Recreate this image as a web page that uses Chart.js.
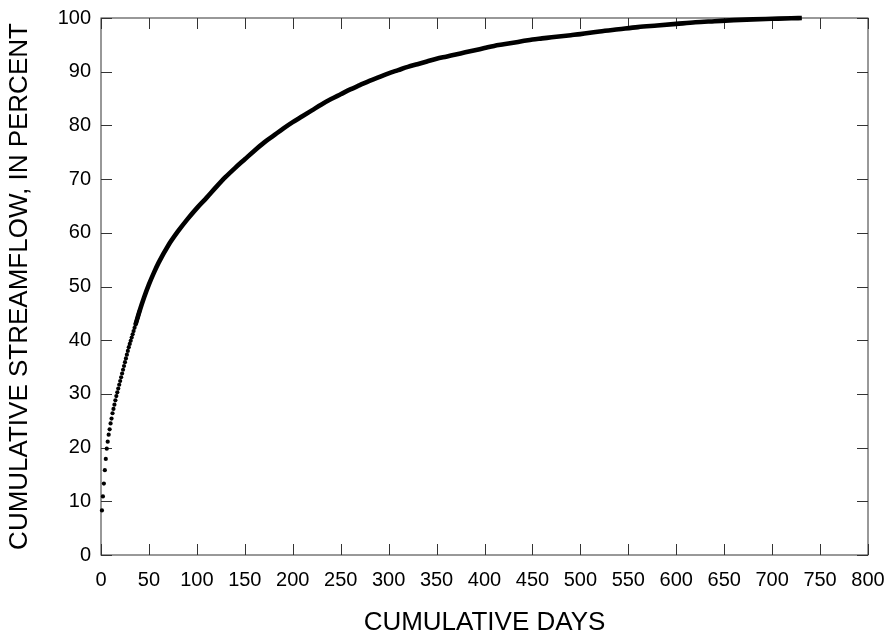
<!DOCTYPE html>
<html>
<head>
<meta charset="utf-8">
<title>Cumulative streamflow</title>
<script src="https://cdn.jsdelivr.net/npm/chart.js@4/dist/chart.umd.min.js"></script>
<style>
  html, body { margin: 0; padding: 0; background: #fff; }
  #wrap { width: 888px; height: 639px; }
</style>
</head>
<body>
<div id="wrap"><canvas id="chart" width="888" height="639"></canvas></div>
<script>
// ── Data ────────────────────────────────────────────────────────────────────
// early days: each day shows as its own dot
const dotDays = [1, 2, 3, 4, 5, 6, 7, 8, 9, 10, 11, 12, 13, 14, 15, 16, 17, 18, 19, 20,
                 21, 22, 23, 24, 25, 26, 27, 28, 29, 30, 31, 32, 33, 34, 35, 36, 37, 38, 39, 40];
const dotPercent = [8.3, 10.9, 13.3, 15.8, 17.9, 19.8, 21.1, 22.4, 23.4, 24.5,
                    25.4, 26.4, 27.2, 28.0, 28.8, 29.6, 30.3, 31.0, 31.7, 32.4,
                    33.1, 33.8, 34.5, 35.2, 35.9, 36.6, 37.3, 38.0, 38.7, 39.3,
                    39.9, 40.5, 41.1, 41.7, 42.3, 42.9, 43.5, 44.1, 44.7, 45.3];

// later days: dots merge into a solid band, sampled along it
const curveDays = [36, 38, 40, 45, 50, 55, 60, 70, 80, 90, 100, 110, 120, 130, 140, 150,
                   160, 170, 180, 190, 200, 210, 220, 230, 240, 250, 260, 270, 280, 290, 300,
                   310, 320, 330, 340, 350, 360, 370, 380, 390, 400, 410, 420, 430, 440, 450,
                   460, 470, 480, 490, 500, 520, 540, 560, 580, 600, 620, 640, 660, 680, 700,
                   720, 731];
const curvePercent = [42.9, 44.1, 45.3, 48.0, 50.4, 52.5, 54.4, 57.6, 60.2, 62.5, 64.6, 66.5, 68.5, 70.4, 72.1, 73.7,
                      75.3, 76.8, 78.1, 79.4, 80.6, 81.7, 82.8, 83.9, 84.9, 85.8, 86.7, 87.5, 88.3, 89.0, 89.7,
                      90.3, 90.9, 91.4, 91.9, 92.4, 92.8, 93.2, 93.6, 94.0, 94.4, 94.8, 95.1, 95.4, 95.7, 96.0,
                      96.2, 96.4, 96.6, 96.8, 97.0, 97.5, 97.9, 98.3, 98.6, 98.9, 99.2, 99.4, 99.6, 99.75, 99.85,
                      99.95, 100.0];

const xTickMax = 800, xStep = 50;
const yTickMax = 100, yStep = 10;

const FONT = "'Liberation Sans', Arial, sans-serif";
const INK = '#000';

// ── Inward ticks on all four sides plus frame ───────────────────────────────
const frameTicks = {
    id: 'frameTicks',
    beforeDatasetsDraw(chart) {
        const { ctx, chartArea: a, scales: { x, y } } = chart;
        const len = 11;
        ctx.save();
        ctx.strokeStyle = '#333';
        ctx.lineWidth = 1;
        ctx.strokeRect(a.left, a.top, a.right - a.left, a.bottom - a.top);
        ctx.beginPath();
        x.ticks.forEach(t => {
            const px = Math.round(x.getPixelForValue(t.value)) + 0.5;
            ctx.moveTo(px, a.bottom); ctx.lineTo(px, a.bottom - len);
            ctx.moveTo(px, a.top);    ctx.lineTo(px, a.top + len);
        });
        y.ticks.forEach(t => {
            const py = Math.round(y.getPixelForValue(t.value)) + 0.5;
            ctx.moveTo(a.left, py);  ctx.lineTo(a.left + len, py);
            ctx.moveTo(a.right, py); ctx.lineTo(a.right - len, py);
        });
        ctx.stroke();
        ctx.restore();
    }
};

new Chart(document.getElementById('chart'), {
    type: 'scatter',
    data: {
        datasets: [
            {
                label: 'curve',
                data: curveDays.map((d, i) => ({ x: d, y: curvePercent[i] })),
                showLine: true,
                borderColor: INK,
                borderWidth: 4.6,
                pointRadius: 0,
                cubicInterpolationMode: 'monotone',
                clip: false
            },
            {
                label: 'days',
                data: dotDays.map((d, i) => ({ x: d, y: dotPercent[i] })),
                backgroundColor: INK,
                borderWidth: 0,
                pointRadius: 2.1,
                clip: false
            }
        ]
    },
    options: {
        responsive: false,
        animation: false,
        events: [],
        layout: { padding: { left: 0, right: 20, top: 18, bottom: 0 } },
        plugins: { legend: { display: false }, tooltip: { enabled: false } },
        scales: {
            x: {
                type: 'linear',
                min: 0, max: xTickMax,
                afterFit(s) { s.height = 84; s.paddingLeft = 0; s.paddingRight = 0; },
                grid: { display: false, drawTicks: false },
                border: { display: false },
                ticks: {
                    stepSize: xStep, autoSkip: false, maxRotation: 0,
                    color: INK, padding: 13,
                    font: { family: FONT, size: 20 }
                },
                title: {
                    display: true, text: 'CUMULATIVE DAYS', color: INK,
                    font: { family: FONT, size: 26 },
                    padding: { top: 0, bottom: 1 }
                }
            },
            y: {
                type: 'linear',
                min: 0, max: yTickMax,
                afterFit(s) { s.width = 101; s.paddingTop = 0; s.paddingBottom = 0; },
                grid: { display: false, drawTicks: false },
                border: { display: false },
                ticks: {
                    stepSize: yStep, autoSkip: false,
                    color: INK, padding: 10,
                    font: { family: FONT, size: 20 }
                },
                title: {
                    display: true, text: 'CUMULATIVE STREAMFLOW, IN PERCENT', color: INK,
                    font: { family: FONT, size: 26 },
                    padding: { top: 4, bottom: 0 }
                }
            }
        }
    },
    plugins: [frameTicks]
});
</script>
</body>
</html>
